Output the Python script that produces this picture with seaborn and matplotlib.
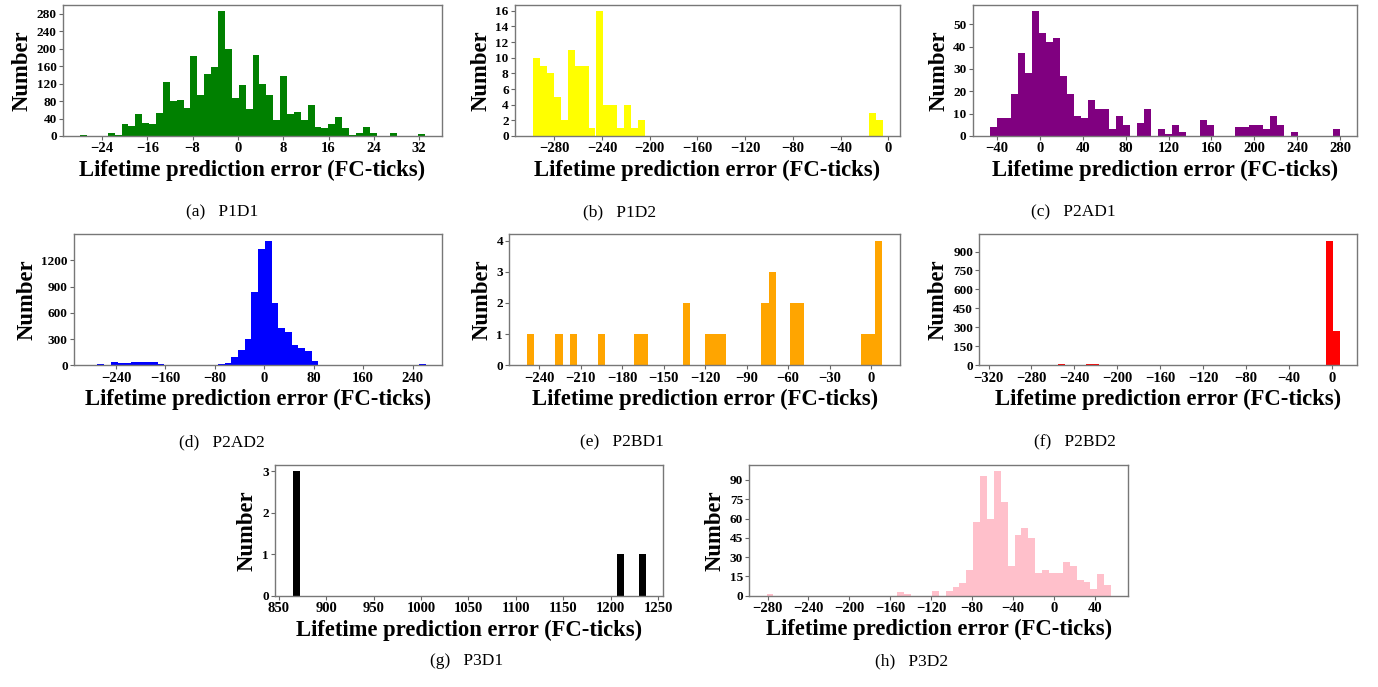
import numpy as np
import matplotlib
matplotlib.use("Agg")
import matplotlib.pyplot as plt
import seaborn as sns
from matplotlib.ticker import MultipleLocator

sns.set_style("ticks")
plt.rcParams['font.family'] = ['Liberation Serif', 'DejaVu Serif']
plt.rcParams['axes.unicode_minus'] = True
plt.rcParams['text.color'] = 'black'
plt.rcParams['axes.labelcolor'] = 'black'
plt.rcParams['xtick.labelcolor'] = 'black'
plt.rcParams['ytick.labelcolor'] = 'black'

# each panel: 50 equal bins over a range, counts
p1d1_range = (-27.85, 33.0)
p1d1_counts = [3, 0, 0, 1, 8, 3, 27, 22, 50, 30, 27, 53, 124, 80, 83, 64, 184, 94, 143, 158,
               287, 199, 86, 116, 63, 186, 119, 94, 36, 138, 50, 54, 36, 70, 21, 19, 28, 43, 18, 2,
               8, 21, 8, 0, 1, 7, 0, 0, 1, 5]

p1d2_range = (-298.3, -4.8)
p1d2_counts = [10, 9, 8, 5, 2, 11, 9, 9, 1, 16, 4, 4, 1, 4, 1, 2] + [0] * 32 + [3, 2]

p2ad1_range = (-46.2, 279.3)
p2ad1_counts = [4, 8, 8, 19, 37, 28, 56, 46, 42, 44, 27, 19, 9, 8, 16, 12, 12, 3, 9, 5,
                0, 6, 12, 0, 3, 1, 5, 2, 0, 0, 7, 5, 0, 0, 0, 4, 4, 5, 5, 3,
                9, 5, 0, 2, 0, 0, 0, 0, 0, 3]

p2ad2_range = (-281.0, 261.0)
p2ad2_counts = [8, 11, 8, 34, 27, 27, 34, 34, 34, 34, 11, 0, 8, 0, 0, 0, 0, 0, 0, 11,
                30, 95, 172, 302, 840, 1330, 1425, 710, 428, 382, 229, 202, 164, 53] + [0] * 15 + [15]

p2bd1_range = (-248.7, 8.1)
p2bd1_counts = [1, 0, 0, 0, 1, 0, 1, 0, 0, 0, 1, 0, 0, 0, 0, 1, 1, 0, 0, 0,
                0, 0, 2, 0, 0, 1, 1, 1, 0, 0, 0, 0, 0, 2, 3, 0, 0, 2, 2, 0,
                0, 0, 0, 0, 0, 0, 0, 1, 1, 4]

p2bd2_range = (-312.6, 6.9)
p2bd2_counts = [1, 0, 0, 0, 0, 0, 5, 5, 5, 8, 5, 5, 5, 13, 10] + [0] * 33 + [987, 272]

p3d1_range = (864.5, 1236.9)
p3d1_counts = [3] + [0] * 45 + [1, 0, 0, 1]

p3d2_range = (-281.0, 56.1)
p3d2_counts = [1] + [0] * 18 + [3, 1, 0, 0, 0, 4, 0, 4, 7, 10, 20,
                                57, 93, 60, 97, 73, 23, 47, 53, 45, 18,
                                20, 18, 18, 26, 23, 12, 11, 5, 17, 8]

panels = [
    # tag, caption, range, counts, color, x step, y step, (left, top, right, bottom) px, caption x, caption y
    ("(a)", "P1D1", p1d1_range, p1d1_counts, "green", 8, 40, (63, 4.5, 442, 136), 222, 212),
    ("(b)", "P1D2", p1d2_range, p1d2_counts, "yellow", 40, 2, (515, 4.5, 900, 136), 620, 212),
    ("(c)", "P2AD1", p2ad1_range, p2ad1_counts, "purple", 40, 10, (972.7, 4.5, 1357, 136), 1073, 212),
    ("(d)", "P2AD2", p2ad2_range, p2ad2_counts, "blue", 80, 300, (74, 234.3, 442.3, 365.3), 222, 442),
    ("(e)", "P2BD1", p2bd1_range, p2bd1_counts, "orange", 30, 1, (509.3, 234.3, 900, 365.3), 622, 442),
    ("(f)", "P2BD2", p2bd2_range, p2bd2_counts, "red", 40, 150, (979.3, 234.3, 1356.7, 365.3), 1075, 442),
    ("(g)", "P3D1", p3d1_range, p3d1_counts, "black", 50, 1, (275, 465, 663.3, 596), 467, 661),
    ("(h)", "P3D2", p3d2_range, p3d2_counts, "pink", 40, 15, (749.3, 464.7, 1128.3, 595.7), 912, 661),
]

W, H = 1378, 687
fig = plt.figure(figsize=(W / 100, H / 100), dpi=100)

for tag, name, rng, counts, color, xstep, ystep, (l, t, r, b), cx, cy in panels:
    ax = fig.add_axes([l / W, 1 - b / H, (r - l) / W, (b - t) / H])
    counts = np.array(counts, dtype=float)
    width = (rng[1] - rng[0]) / len(counts)
    centers = rng[0] + (np.arange(len(counts)) + 0.5) * width
    sns.histplot(x=centers, weights=counts, bins=len(counts), binrange=rng,
                 color=color, alpha=1, linewidth=0, ax=ax)
    ax.xaxis.set_major_locator(MultipleLocator(xstep))
    ax.yaxis.set_major_locator(MultipleLocator(ystep))
    ax.set_xlabel("Lifetime prediction error (FC-ticks)", fontsize=16.3, fontweight="bold", labelpad=3)
    ax.set_ylabel("Number", fontsize=16.3, fontweight="bold", labelpad=3)
    ax.tick_params(axis="x", labelsize=10.5, length=3, width=0.8, color="#666666", pad=1.5)
    ax.tick_params(axis="y", labelsize=9.5, length=3, width=0.8, color="#666666", pad=1.5)
    for lab in ax.get_xticklabels() + ax.get_yticklabels():
        lab.set_fontweight("bold")
    for sp in ax.spines.values():
        sp.set_visible(True)
        sp.set_color("#777777")
        sp.set_linewidth(1.0)
    fig.text(cx / W, 1 - cy / H, f"{tag}   {name}", ha="center", va="center", fontsize=12.5)

fig.savefig("out.png", dpi=100)
